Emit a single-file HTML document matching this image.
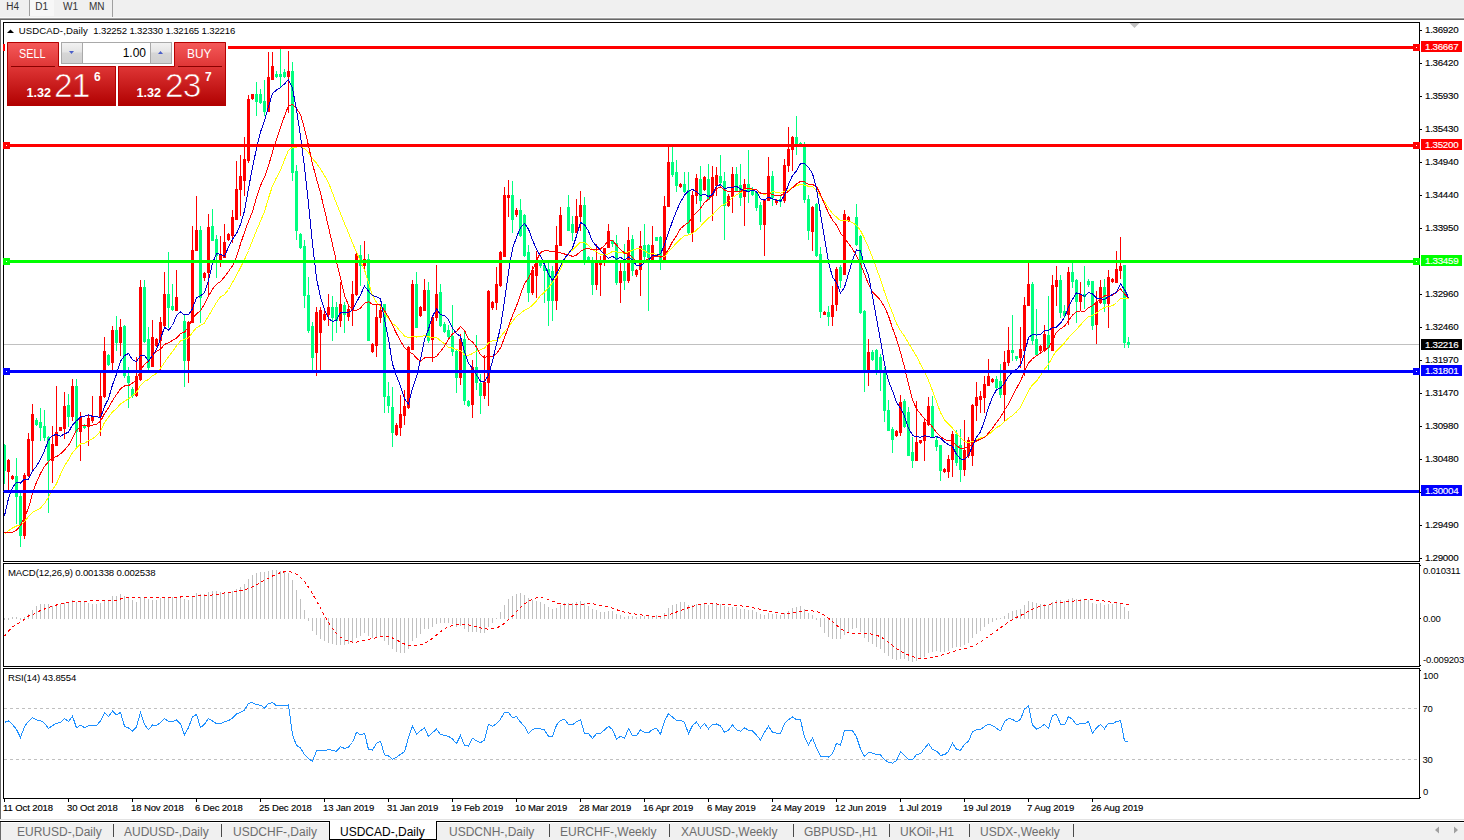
<!DOCTYPE html>
<html><head><meta charset="utf-8"><title>USDCAD-,Daily</title>
<style>html,body{margin:0;padding:0;background:#fff;} body{width:1464px;height:840px;position:relative;overflow:hidden;font-family:'Liberation Sans', sans-serif;}
svg text{white-space:pre;}</style></head>
<body>
<div style="position:absolute;left:7px;top:41px;width:219px;height:65px;">
</div>
<svg width="1464" height="840" viewBox="0 0 1464 840" style="position:absolute;left:0;top:0;font-family:'Liberation Sans', sans-serif"><rect x="0" y="0" width="1464" height="840" fill="#ffffff"/><rect x="0" y="0" width="1464" height="17" fill="#f0f0f0"/><rect x="0" y="17" width="1464" height="1" fill="#f9f9f9"/><rect x="0" y="18" width="1464" height="1" fill="#a0a0a0"/><rect x="0" y="19" width="1464" height="1" fill="#696969"/><rect x="0" y="19" width="1" height="800" fill="#696969"/><rect x="0" y="819" width="1464" height="1" fill="#e3e3e3"/><rect x="0" y="821" width="1464" height="1" fill="#000000"/><rect x="0" y="822" width="1464" height="18" fill="#f0f0f0"/><rect x="1" y="822" width="1463" height="1" fill="#ffffff"/><rect x="0" y="822" width="1" height="18" fill="#696969"/><rect x="30" y="0" width="24" height="16" fill="#f7f7f7"/><rect x="29" y="0" width="1" height="16" fill="#a0a0a0"/><rect x="112" y="0" width="1" height="17" fill="#a0a0a0"/><text x="6.3" y="10.2" font-size="10" fill="#333" letter-spacing="0">H4</text><text x="35.2" y="10.2" font-size="10" fill="#333" letter-spacing="0">D1</text><text x="63" y="10.2" font-size="10" fill="#333" letter-spacing="0">W1</text><text x="89" y="10.2" font-size="10" fill="#333" letter-spacing="0">MN</text><rect x="3.5" y="22.5" width="1416" height="539" fill="none" stroke="#000" stroke-width="1" shape-rendering="crispEdges"/><rect x="3.5" y="563.5" width="1416" height="103" fill="none" stroke="#000" stroke-width="1" shape-rendering="crispEdges"/><rect x="3.5" y="668.5" width="1416" height="130" fill="none" stroke="#000" stroke-width="1" shape-rendering="crispEdges"/><defs><clipPath id="cm"><rect x="4" y="23" width="1415" height="538"/></clipPath><clipPath id="cmacd"><rect x="4" y="564" width="1415" height="102"/></clipPath><clipPath id="crsi"><rect x="4" y="669" width="1415" height="129"/></clipPath></defs><g clip-path="url(#cm)"><rect x="4" y="344" width="1415" height="1" fill="#c0c0c0"/><path d="M8,459h1v32h-1z M7,460h3v12h-3z M12,475h1v5h-1z M11,476h3v3h-3z M24,473h1v66h-1z M23,475h3v61h-3z M28,433h1v44h-1z M27,439h3v37h-3z M32,404h1v68h-1z M31,414h3v27h-3z M52,426h1v57h-1z M51,444h3v17h-3z M56,386h1v60h-1z M55,432h3v14h-3z M60,427h1v4h-1z M59,427h3v4h-3z M64,392h1v47h-1z M63,406h3v23h-3z M72,379h1v42h-1z M71,386h3v31h-3z M80,412h1v49h-1z M79,417h3v15h-3z M88,415h1v31h-1z M87,418h3v9h-3z M92,396h1v27h-1z M91,416h3v5h-3z M100,373h1v63h-1z M99,396h3v21h-3z M104,337h1v61h-1z M103,351h3v46h-3z M112,326h1v45h-1z M111,330h3v33h-3z M120,319h1v37h-1z M119,327h3v16h-3z M136,357h1v40h-1z M135,376h3v20h-3z M140,280h1v101h-1z M139,287h3v93h-3z M152,320h1v47h-1z M151,337h3v30h-3z M156,338h1v9h-1z M155,339h3v7h-3z M160,317h1v54h-1z M159,322h3v19h-3z M164,272h1v55h-1z M163,294h3v32h-3z M176,270h1v41h-1z M175,297h3v14h-3z M188,321h1v62h-1z M187,322h3v39h-3z M192,226h1v97h-1z M191,250h3v73h-3z M196,196h1v55h-1z M195,230h3v21h-3z M204,272h1v9h-1z M203,273h3v5h-3z M208,214h1v82h-1z M207,227h3v46h-3z M220,236h1v31h-1z M219,255h3v6h-3z M224,224h1v34h-1z M223,242h3v16h-3z M228,233h1v8h-1z M227,234h3v6h-3z M232,210h1v33h-1z M231,217h3v19h-3z M236,161h1v59h-1z M235,189h3v31h-3z M240,155h1v61h-1z M239,176h3v14h-3z M244,137h1v59h-1z M243,159h3v22h-3z M248,95h1v68h-1z M247,99h3v62h-3z M252,94h1v6h-1z M251,94h3v5h-3z M268,52h1v60h-1z M267,77h3v35h-3z M272,52h1v28h-1z M271,66h3v14h-3z M288,51h1v62h-1z M287,71h3v6h-3z M316,307h1v69h-1z M315,312h3v41h-3z M320,307h1v66h-1z M319,310h3v23h-3z M324,310h1v11h-1z M323,314h3v6h-3z M328,294h1v32h-1z M327,307h3v8h-3z M340,282h1v45h-1z M339,304h3v17h-3z M348,305h1v16h-1z M347,309h3v8h-3z M352,281h1v45h-1z M351,294h3v17h-3z M356,252h1v44h-1z M355,254h3v41h-3z M364,241h1v30h-1z M363,259h3v7h-3z M372,343h1v10h-1z M371,344h3v8h-3z M376,304h1v53h-1z M375,317h3v29h-3z M380,305h1v18h-1z M379,310h3v8h-3z M396,423h1v13h-1z M395,425h3v10h-3z M400,395h1v41h-1z M399,414h3v14h-3z M404,390h1v35h-1z M403,406h3v10h-3z M408,346h1v63h-1z M407,347h3v61h-3z M412,280h1v70h-1z M411,284h3v66h-3z M420,306h1v11h-1z M419,307h3v9h-3z M424,279h1v32h-1z M423,290h3v21h-3z M432,315h1v47h-1z M431,317h3v23h-3z M436,265h1v56h-1z M435,294h3v24h-3z M460,334h1v51h-1z M459,339h3v39h-3z M472,360h1v58h-1z M471,367h3v38h-3z M484,355h1v44h-1z M483,382h3v14h-3z M488,290h1v116h-1z M487,291h3v92h-3z M492,301h1v9h-1z M491,302h3v6h-3z M496,267h1v43h-1z M495,284h3v19h-3z M500,251h1v36h-1z M499,252h3v34h-3z M504,187h1v70h-1z M503,195h3v62h-3z M508,180h1v37h-1z M507,195h3v3h-3z M516,208h1v9h-1z M515,210h3v5h-3z M532,266h1v29h-1z M531,270h3v23h-3z M536,251h1v47h-1z M535,262h3v14h-3z M556,226h1v84h-1z M555,245h3v56h-3z M560,207h1v39h-1z M559,215h3v31h-3z M576,199h1v34h-1z M575,216h3v17h-3z M580,191h1v40h-1z M579,205h3v12h-3z M596,244h1v46h-1z M595,262h3v23h-3z M600,256h1v40h-1z M599,261h3v4h-3z M604,248h1v18h-1z M603,248h3v13h-3z M608,224h1v24h-1z M607,231h3v17h-3z M620,260h1v43h-1z M619,271h3v12h-3z M628,227h1v56h-1z M627,240h3v41h-3z M636,269h1v8h-1z M635,270h3v5h-3z M640,231h1v65h-1z M639,246h3v24h-3z M652,226h1v35h-1z M651,245h3v15h-3z M664,196h1v65h-1z M663,206h3v55h-3z M668,146h1v61h-1z M667,162h3v45h-3z M680,183h1v5h-1z M679,184h3v3h-3z M692,191h1v51h-1z M691,195h3v38h-3z M696,174h1v30h-1z M695,178h3v18h-3z M704,176h1v15h-1z M703,177h3v13h-3z M712,166h1v55h-1z M711,177h3v19h-3z M716,167h1v29h-1z M715,175h3v11h-3z M728,194h1v13h-1z M727,196h3v10h-3z M732,167h1v46h-1z M731,174h3v23h-3z M744,179h1v47h-1z M743,184h3v13h-3z M764,199h1v57h-1z M763,200h3v25h-3z M768,157h1v44h-1z M767,176h3v25h-3z M776,199h1v6h-1z M775,200h3v3h-3z M784,159h1v44h-1z M783,165h3v36h-3z M788,127h1v45h-1z M787,149h3v17h-3z M792,136h1v35h-1z M791,137h3v13h-3z M812,206h1v45h-1z M811,207h3v25h-3z M824,311h1v4h-1z M823,312h3v3h-3z M832,286h1v40h-1z M831,305h3v12h-3z M836,267h1v44h-1z M835,269h3v36h-3z M844,210h1v65h-1z M843,214h3v61h-3z M848,216h1v6h-1z M847,217h3v4h-3z M868,339h1v47h-1z M867,352h3v19h-3z M896,430h1v7h-1z M895,431h3v5h-3z M900,395h1v41h-1z M899,402h3v31h-3z M916,401h1v60h-1z M915,442h3v19h-3z M920,440h1v4h-1z M919,440h3v3h-3z M924,420h1v41h-1z M923,422h3v19h-3z M928,397h1v29h-1z M927,406h3v19h-3z M944,468h1v5h-1z M943,469h3v3h-3z M948,455h1v23h-1z M947,459h3v13h-3z M952,431h1v46h-1z M951,434h3v26h-3z M964,420h1v56h-1z M963,450h3v20h-3z M968,437h1v21h-1z M967,440h3v16h-3z M972,404h1v62h-1z M971,405h3v51h-3z M976,382h1v39h-1z M975,397h3v9h-3z M980,391h1v22h-1z M979,396h3v4h-3z M984,376h1v37h-1z M983,384h3v14h-3z M988,359h1v27h-1z M987,376h3v10h-3z M992,378h1v5h-1z M991,379h3v3h-3z M1004,351h1v70h-1z M1003,362h3v33h-3z M1008,327h1v39h-1z M1007,350h3v13h-3z M1020,327h1v41h-1z M1019,349h3v9h-3z M1024,297h1v79h-1z M1023,305h3v46h-3z M1028,262h1v44h-1z M1027,284h3v22h-3z M1040,345h1v7h-1z M1039,346h3v5h-3z M1044,325h1v27h-1z M1043,334h3v17h-3z M1052,275h1v76h-1z M1051,285h3v66h-3z M1056,266h1v40h-1z M1055,280h3v7h-3z M1068,267h1v58h-1z M1067,272h3v43h-3z M1080,282h1v28h-1z M1079,294h3v8h-3z M1096,291h1v53h-1z M1095,302h3v23h-3z M1100,280h1v24h-1z M1099,287h3v16h-3z M1108,270h1v58h-1z M1107,277h3v27h-3z M1112,278h1v5h-1z M1111,279h3v3h-3z M1116,251h1v32h-1z M1115,269h3v14h-3z M1120,237h1v42h-1z M1119,266h3v5h-3z " fill="#ff0000" shape-rendering="crispEdges"/><path d="M4,444h1v40h-1z M3,445h3v26h-3z M16,458h1v66h-1z M15,476h3v21h-3z M20,490h1v57h-1z M19,496h3v40h-3z M36,418h1v8h-1z M35,420h3v5h-3z M40,408h1v33h-1z M39,422h3v6h-3z M44,410h1v31h-1z M43,426h3v12h-3z M48,436h1v77h-1z M47,437h3v24h-3z M68,394h1v33h-1z M67,405h3v12h-3z M76,379h1v69h-1z M75,386h3v46h-3z M84,424h1v5h-1z M83,425h3v3h-3z M108,354h1v12h-1z M107,355h3v10h-3z M116,316h1v35h-1z M115,330h3v13h-3z M124,325h1v53h-1z M123,326h3v50h-3z M128,367h1v41h-1z M127,376h3v7h-3z M132,387h1v11h-1z M131,389h3v7h-3z M144,280h1v63h-1z M143,287h3v55h-3z M148,327h1v43h-1z M147,339h3v29h-3z M168,252h1v76h-1z M167,294h3v14h-3z M172,284h1v27h-1z M171,306h3v4h-3z M184,314h1v73h-1z M183,321h3v40h-3z M200,226h1v97h-1z M199,230h3v68h-3z M212,209h1v32h-1z M211,226h3v15h-3z M216,235h1v43h-1z M215,239h3v17h-3z M256,82h1v34h-1z M255,94h3v8h-3z M260,89h1v15h-1z M259,94h3v9h-3z M264,80h1v36h-1z M263,101h3v11h-3z M276,71h1v7h-1z M275,74h3v3h-3z M280,49h1v38h-1z M279,74h3v3h-3z M284,69h1v9h-1z M283,72h3v5h-3z M292,62h1v119h-1z M291,71h3v102h-3z M296,165h1v75h-1z M295,171h3v60h-3z M300,233h1v16h-1z M299,234h3v14h-3z M304,240h1v68h-1z M303,246h3v50h-3z M308,277h1v56h-1z M307,295h3v36h-3z M312,322h1v51h-1z M311,326h3v32h-3z M332,296h1v45h-1z M331,307h3v11h-3z M336,302h1v31h-1z M335,307h3v14h-3z M344,302h1v31h-1z M343,305h3v10h-3z M360,245h1v41h-1z M359,255h3v11h-3z M368,254h1v87h-1z M367,259h3v82h-3z M384,304h1v109h-1z M383,304h3v93h-3z M388,382h1v31h-1z M387,396h3v10h-3z M392,387h1v60h-1z M391,407h3v26h-3z M416,272h1v56h-1z M415,284h3v44h-3z M428,282h1v61h-1z M427,290h3v51h-3z M440,284h1v43h-1z M439,292h3v34h-3z M444,322h1v11h-1z M443,324h3v8h-3z M448,325h1v15h-1z M447,330h3v7h-3z M452,305h1v51h-1z M451,336h3v16h-3z M456,349h1v44h-1z M455,351h3v27h-3z M464,331h1v74h-1z M463,339h3v62h-3z M468,400h1v7h-1z M467,401h3v5h-3z M476,335h1v55h-1z M475,367h3v16h-3z M480,374h1v40h-1z M479,383h3v13h-3z M512,181h1v52h-1z M511,195h3v25h-3z M520,199h1v38h-1z M519,210h3v26h-3z M524,214h1v43h-1z M523,215h3v41h-3z M528,245h1v57h-1z M527,252h3v41h-3z M540,260h1v8h-1z M539,262h3v4h-3z M544,262h1v41h-1z M543,265h3v6h-3z M548,262h1v64h-1z M547,269h3v32h-3z M552,266h1v55h-1z M551,271h3v30h-3z M568,195h1v36h-1z M567,207h3v24h-3z M572,216h1v25h-1z M571,224h3v9h-3z M584,197h1v68h-1z M583,205h3v56h-3z M588,256h1v7h-1z M587,257h3v4h-3z M592,257h1v38h-1z M591,260h3v25h-3z M612,240h1v7h-1z M611,240h3v4h-3z M616,235h1v50h-1z M615,243h3v40h-3z M624,244h1v46h-1z M623,271h3v10h-3z M632,235h1v41h-1z M631,239h3v32h-3z M644,224h1v37h-1z M643,245h3v12h-3z M648,244h1v67h-1z M647,245h3v13h-3z M656,237h1v4h-1z M655,237h3v4h-3z M660,236h1v34h-1z M659,237h3v24h-3z M672,147h1v30h-1z M671,162h3v13h-3z M676,160h1v32h-1z M675,172h3v14h-3z M684,172h1v21h-1z M683,184h3v8h-3z M688,172h1v63h-1z M687,190h3v43h-3z M700,166h1v56h-1z M699,179h3v22h-3z M708,164h1v36h-1z M707,179h3v21h-3z M720,155h1v31h-1z M719,176h3v7h-3z M724,172h1v68h-1z M723,181h3v25h-3z M736,167h1v25h-1z M735,174h3v18h-3z M740,164h1v42h-1z M739,185h3v13h-3z M748,150h1v53h-1z M747,184h3v8h-3z M752,187h1v9h-1z M751,189h3v6h-3z M756,191h1v20h-1z M755,192h3v16h-3z M760,202h1v28h-1z M759,205h3v20h-3z M772,171h1v35h-1z M771,176h3v22h-3z M780,195h1v12h-1z M779,199h3v3h-3z M796,116h1v39h-1z M795,137h3v8h-3z M800,142h1v5h-1z M799,143h3v3h-3z M804,142h1v61h-1z M803,144h3v56h-3z M808,195h1v45h-1z M807,199h3v32h-3z M816,203h1v54h-1z M815,204h3v52h-3z M820,247h1v71h-1z M819,254h3v58h-3z M828,306h1v20h-1z M827,312h3v5h-3z M840,265h1v23h-1z M839,267h3v14h-3z M856,204h1v42h-1z M855,217h3v28h-3z M860,235h1v79h-1z M859,236h3v77h-3z M864,310h1v82h-1z M863,311h3v60h-3z M872,350h1v11h-1z M871,352h3v8h-3z M876,349h1v26h-1z M875,350h3v21h-3z M880,354h1v37h-1z M879,357h3v16h-3z M884,367h1v55h-1z M883,370h3v41h-3z M888,400h1v31h-1z M887,410h3v21h-3z M892,427h1v26h-1z M891,429h3v11h-3z M904,399h1v29h-1z M903,401h3v26h-3z M908,407h1v49h-1z M907,412h3v44h-3z M912,437h1v31h-1z M911,452h3v9h-3z M932,396h1v42h-1z M931,406h3v32h-3z M936,436h1v15h-1z M935,440h3v7h-3z M940,445h1v36h-1z M939,445h3v26h-3z M956,430h1v36h-1z M955,434h3v29h-3z M960,429h1v53h-1z M959,445h3v25h-3z M996,376h1v15h-1z M995,379h3v9h-3z M1000,364h1v34h-1z M999,381h3v14h-3z M1012,315h1v46h-1z M1011,350h3v3h-3z M1016,356h1v5h-1z M1015,356h3v3h-3z M1032,282h1v63h-1z M1031,284h3v57h-3z M1036,309h1v47h-1z M1035,339h3v16h-3z M1048,296h1v75h-1z M1047,335h3v13h-3z M1060,275h1v43h-1z M1059,280h3v33h-3z M1064,305h1v13h-1z M1063,311h3v5h-3z M1072,262h1v26h-1z M1071,272h3v10h-3z M1076,279h1v44h-1z M1075,280h3v22h-3z M1084,266h1v43h-1z M1083,294h3v3h-3z M1088,279h1v8h-1z M1087,281h3v4h-3z M1092,281h1v49h-1z M1091,281h3v45h-3z M1104,279h1v33h-1z M1103,287h3v17h-3z M1124,265h1v83h-1z M1123,265h3v78h-3z M1128,337h1v11h-1z M1127,342h3v3h-3z " fill="#00ff7f" shape-rendering="crispEdges"/><polyline points="4.5,534.5 8.5,530.6 12.5,528.0 16.5,526.0 20.5,525.1 24.5,521.4 28.5,516.6 32.5,512.4 36.5,510.4 40.5,508.0 44.5,503.5 48.5,497.1 52.5,489.8 56.5,483.7 60.5,474.4 64.5,466.1 68.5,459.7 72.5,452.6 76.5,448.0 80.5,443.9 84.5,443.3 88.5,440.8 92.5,438.7 96.5,435.9 100.5,431.1 104.5,422.4 108.5,417.1 112.5,411.9 116.5,408.5 120.5,403.8 124.5,401.4 128.5,398.7 132.5,395.6 136.5,392.4 140.5,385.5 144.5,381.4 148.5,379.5 152.5,375.8 156.5,373.5 160.5,368.4 164.5,362.5 168.5,356.8 172.5,351.6 176.5,345.9 180.5,341.0 184.5,339.3 188.5,337.9 192.5,332.5 196.5,327.7 200.5,325.5 204.5,323.0 208.5,315.9 212.5,309.2 216.5,302.5 220.5,296.7 224.5,294.6 228.5,289.5 232.5,282.4 236.5,275.3 240.5,267.5 244.5,259.8 248.5,250.5 252.5,240.4 256.5,230.5 260.5,221.2 264.5,211.6 268.5,198.1 272.5,185.9 276.5,177.6 280.5,170.3 284.5,159.8 288.5,150.2 292.5,147.5 296.5,147.1 300.5,146.7 304.5,148.6 308.5,152.8 312.5,158.6 316.5,163.2 320.5,168.9 324.5,175.5 328.5,182.5 332.5,192.9 336.5,203.7 340.5,213.4 344.5,223.5 348.5,232.9 352.5,243.2 356.5,252.2 360.5,261.2 364.5,269.9 368.5,282.5 372.5,295.5 376.5,302.4 380.5,306.2 384.5,313.3 388.5,318.5 392.5,323.4 396.5,326.6 400.5,331.5 404.5,336.0 408.5,337.6 412.5,336.5 416.5,337.0 420.5,336.4 424.5,335.7 428.5,336.9 432.5,337.3 436.5,337.3 440.5,340.7 444.5,343.8 448.5,347.5 452.5,348.0 456.5,349.6 460.5,350.6 464.5,354.9 468.5,355.4 472.5,353.5 476.5,351.2 480.5,349.7 484.5,348.2 488.5,342.7 492.5,340.6 496.5,340.6 500.5,337.0 504.5,331.7 508.5,327.2 512.5,321.4 516.5,316.3 520.5,313.5 524.5,310.2 528.5,308.3 532.5,305.2 536.5,300.9 540.5,295.6 544.5,292.3 548.5,287.5 552.5,282.5 556.5,276.7 560.5,268.8 564.5,260.0 568.5,252.8 572.5,250.0 576.5,245.9 580.5,242.1 584.5,242.5 588.5,245.6 592.5,249.8 596.5,251.9 600.5,254.3 604.5,254.9 608.5,253.8 612.5,251.5 616.5,252.0 620.5,252.5 624.5,253.2 628.5,251.7 632.5,250.3 636.5,248.9 640.5,248.9 644.5,250.9 648.5,253.1 652.5,253.8 656.5,254.2 660.5,256.3 664.5,256.3 668.5,251.6 672.5,247.5 676.5,242.8 680.5,239.1 684.5,235.8 688.5,235.0 692.5,233.3 696.5,230.2 700.5,226.3 704.5,221.8 708.5,218.0 712.5,215.0 716.5,210.5 720.5,206.3 724.5,204.3 728.5,201.5 732.5,197.5 736.5,194.9 740.5,192.9 744.5,189.3 748.5,188.5 752.5,190.1 756.5,191.6 760.5,193.5 764.5,194.3 768.5,193.5 772.5,191.9 776.5,192.1 780.5,193.2 784.5,191.5 788.5,190.2 792.5,187.3 796.5,185.7 800.5,184.3 804.5,185.1 808.5,186.3 812.5,186.8 816.5,190.6 820.5,196.4 824.5,201.8 828.5,208.1 832.5,213.5 836.5,217.1 840.5,220.6 844.5,220.1 848.5,220.9 852.5,222.9 856.5,225.1 860.5,230.5 864.5,238.5 868.5,247.4 872.5,257.4 876.5,268.5 880.5,279.4 884.5,292.0 888.5,303.0 892.5,312.9 896.5,323.6 900.5,330.6 904.5,336.1 908.5,342.9 912.5,349.7 916.5,356.3 920.5,364.4 924.5,371.2 928.5,380.3 932.5,390.8 936.5,401.7 940.5,412.5 944.5,419.9 948.5,424.2 952.5,428.1 956.5,433.0 960.5,437.7 964.5,441.4 968.5,442.8 972.5,441.6 976.5,439.6 980.5,438.0 984.5,437.1 988.5,434.7 992.5,431.1 996.5,427.6 1000.5,425.4 1004.5,421.6 1008.5,418.2 1012.5,415.6 1016.5,411.9 1020.5,407.3 1024.5,399.4 1028.5,390.6 1032.5,384.9 1036.5,381.1 1040.5,375.6 1044.5,369.2 1048.5,364.3 1052.5,356.9 1056.5,350.9 1060.5,346.9 1064.5,343.0 1068.5,337.7 1072.5,333.2 1076.5,329.5 1080.5,325.0 1084.5,320.4 1088.5,316.6 1092.5,315.5 1096.5,313.1 1100.5,309.7 1104.5,307.5 1108.5,306.2 1112.5,305.9 1116.5,302.5 1120.5,298.4 1124.5,298.2 1128.5,298.6" fill="none" stroke="#ffff00" stroke-width="1" shape-rendering="crispEdges"/><polyline points="4.5,533.0 8.5,532.6 12.5,532.5 16.5,530.0 20.5,525.7 24.5,516.9 28.5,508.2 32.5,493.5 36.5,482.2 40.5,473.4 44.5,466.5 48.5,461.6 52.5,457.3 56.5,456.9 60.5,453.8 64.5,449.9 68.5,445.6 72.5,437.8 76.5,430.4 80.5,426.2 84.5,425.4 88.5,425.6 92.5,425.1 96.5,424.3 100.5,421.4 104.5,413.6 108.5,407.9 112.5,400.6 116.5,394.5 120.5,388.9 124.5,385.9 128.5,385.6 132.5,383.1 136.5,380.1 140.5,370.1 144.5,364.6 148.5,361.1 152.5,355.5 156.5,351.4 160.5,349.4 164.5,344.4 168.5,342.7 172.5,340.4 176.5,338.2 180.5,333.7 184.5,332.1 188.5,326.9 192.5,317.9 196.5,313.9 200.5,310.7 204.5,304.0 208.5,296.1 212.5,289.1 216.5,284.3 220.5,281.5 224.5,276.9 228.5,271.5 232.5,265.8 236.5,257.0 240.5,243.9 244.5,232.2 248.5,221.4 252.5,211.7 256.5,197.7 260.5,185.5 264.5,177.2 268.5,165.6 272.5,152.1 276.5,139.3 280.5,127.4 284.5,116.1 288.5,105.7 292.5,104.5 296.5,108.4 300.5,114.6 304.5,128.6 308.5,145.5 312.5,163.8 316.5,178.8 320.5,193.0 324.5,209.9 328.5,227.1 332.5,244.4 336.5,261.8 340.5,278.1 344.5,295.4 348.5,305.2 352.5,309.8 356.5,310.3 360.5,308.1 364.5,303.1 368.5,301.9 372.5,304.1 376.5,304.6 380.5,304.4 384.5,310.7 388.5,317.0 392.5,325.0 396.5,333.6 400.5,340.8 404.5,347.7 408.5,351.5 412.5,353.6 416.5,358.1 420.5,361.5 424.5,357.9 428.5,357.6 432.5,357.6 436.5,356.5 440.5,351.4 444.5,346.1 448.5,339.3 452.5,334.0 456.5,331.4 460.5,326.6 464.5,330.4 468.5,339.0 472.5,341.9 476.5,347.2 480.5,354.7 484.5,357.7 488.5,355.9 492.5,356.4 496.5,353.5 500.5,347.9 504.5,337.8 508.5,326.6 512.5,315.4 516.5,306.1 520.5,294.4 524.5,283.6 528.5,278.3 532.5,270.3 536.5,260.8 540.5,252.4 544.5,250.9 548.5,250.8 552.5,251.9 556.5,251.4 560.5,252.9 564.5,254.0 568.5,254.8 572.5,256.4 576.5,255.0 580.5,251.4 584.5,249.1 588.5,248.4 592.5,250.0 596.5,249.8 600.5,249.1 604.5,245.4 608.5,240.5 612.5,240.4 616.5,245.1 620.5,249.4 624.5,253.0 628.5,253.6 632.5,257.4 636.5,262.1 640.5,261.1 644.5,260.8 648.5,258.9 652.5,257.6 656.5,256.1 660.5,257.0 664.5,255.2 668.5,249.4 672.5,241.7 676.5,235.6 680.5,228.7 684.5,225.2 688.5,222.5 692.5,217.1 696.5,212.3 700.5,208.3 704.5,202.6 708.5,199.3 712.5,194.8 716.5,188.7 720.5,187.0 724.5,190.1 728.5,191.6 732.5,190.9 736.5,191.4 740.5,191.8 744.5,188.4 748.5,188.1 752.5,189.2 756.5,189.7 760.5,193.1 764.5,193.1 768.5,193.1 772.5,194.6 776.5,195.9 780.5,195.6 784.5,193.4 788.5,191.6 792.5,187.8 796.5,184.0 800.5,181.2 804.5,181.8 808.5,184.4 812.5,184.4 816.5,186.6 820.5,194.5 824.5,204.2 828.5,212.7 832.5,220.2 836.5,225.1 840.5,233.3 844.5,237.9 848.5,243.6 852.5,248.9 856.5,255.9 860.5,264.0 864.5,274.0 868.5,284.4 872.5,291.8 876.5,296.0 880.5,300.3 884.5,307.0 888.5,315.9 892.5,328.1 896.5,338.9 900.5,352.3 904.5,367.2 908.5,384.2 912.5,399.6 916.5,408.9 920.5,413.9 924.5,418.9 928.5,422.3 932.5,427.1 936.5,432.4 940.5,436.6 944.5,439.4 948.5,440.9 952.5,441.1 956.5,445.4 960.5,448.4 964.5,448.1 968.5,446.6 972.5,444.0 976.5,440.9 980.5,439.1 984.5,437.5 988.5,433.1 992.5,428.4 996.5,422.4 1000.5,417.1 1004.5,410.1 1008.5,404.1 1012.5,396.3 1016.5,388.4 1020.5,381.1 1024.5,371.5 1028.5,362.9 1032.5,358.8 1036.5,355.8 1040.5,353.1 1044.5,350.1 1048.5,347.8 1052.5,340.5 1056.5,332.4 1060.5,328.8 1064.5,326.3 1068.5,320.6 1072.5,315.1 1076.5,311.6 1080.5,310.9 1084.5,311.7 1088.5,307.7 1092.5,305.6 1096.5,302.5 1100.5,299.1 1104.5,296.0 1108.5,295.4 1112.5,295.4 1116.5,292.3 1120.5,288.8 1124.5,293.8 1128.5,298.3" fill="none" stroke="#ff0000" stroke-width="1" shape-rendering="crispEdges"/><polyline points="4.5,515.7 8.5,498.4 12.5,487.7 16.5,482.3 20.5,483.2 24.5,479.2 28.5,479.2 32.5,471.2 36.5,466.1 40.5,459.1 44.5,450.6 48.5,439.9 52.5,435.5 56.5,434.5 60.5,436.4 64.5,433.8 68.5,432.2 72.5,424.9 76.5,420.8 80.5,416.9 84.5,416.2 88.5,414.9 92.5,416.4 96.5,416.4 100.5,417.8 104.5,406.4 108.5,398.8 112.5,384.9 116.5,374.1 120.5,361.4 124.5,355.5 128.5,353.5 132.5,359.8 136.5,361.5 140.5,355.4 144.5,355.2 148.5,360.9 152.5,355.5 156.5,349.4 160.5,338.9 164.5,327.2 168.5,330.1 172.5,325.5 176.5,315.5 180.5,311.9 184.5,314.9 188.5,314.9 192.5,308.6 196.5,297.6 200.5,295.9 204.5,292.5 208.5,280.4 212.5,263.2 216.5,253.6 220.5,254.4 224.5,256.1 228.5,247.1 232.5,239.1 236.5,233.6 240.5,224.5 244.5,210.8 248.5,188.5 252.5,167.4 256.5,148.4 260.5,131.9 264.5,120.8 268.5,106.6 272.5,93.4 276.5,90.1 280.5,87.5 284.5,83.9 288.5,79.5 292.5,88.2 296.5,110.1 300.5,135.9 304.5,167.2 308.5,203.5 312.5,243.6 316.5,278.1 320.5,297.8 324.5,309.8 328.5,318.4 332.5,321.5 336.5,320.1 340.5,312.5 344.5,312.8 348.5,312.6 352.5,309.8 356.5,302.2 360.5,294.8 364.5,286.1 368.5,291.2 372.5,295.5 376.5,296.6 380.5,298.9 384.5,319.2 388.5,339.2 392.5,363.9 396.5,376.1 400.5,386.1 404.5,398.8 408.5,404.1 412.5,388.1 416.5,376.9 420.5,359.1 424.5,339.8 428.5,329.2 432.5,316.5 436.5,308.9 440.5,314.8 444.5,315.4 448.5,319.5 452.5,328.2 456.5,333.5 460.5,336.6 464.5,351.8 468.5,363.2 472.5,368.4 476.5,374.9 480.5,381.2 484.5,381.9 488.5,375.1 492.5,361.1 496.5,343.8 500.5,327.4 504.5,300.6 508.5,272.1 512.5,248.8 516.5,237.2 520.5,227.6 524.5,223.5 528.5,229.2 532.5,239.9 536.5,249.5 540.5,256.1 544.5,264.6 548.5,273.9 552.5,280.4 556.5,273.6 560.5,265.8 564.5,258.5 568.5,253.5 572.5,248.1 576.5,236.1 580.5,222.5 584.5,224.6 588.5,231.1 592.5,241.5 596.5,246.1 600.5,250.2 604.5,254.8 608.5,258.5 612.5,256.1 616.5,259.2 620.5,257.4 624.5,259.9 628.5,256.9 632.5,260.1 636.5,265.6 640.5,266.1 644.5,262.4 648.5,260.4 652.5,255.4 656.5,255.4 660.5,253.9 664.5,244.8 668.5,232.8 672.5,221.1 676.5,210.8 680.5,202.1 684.5,195.1 688.5,191.1 692.5,189.5 696.5,191.8 700.5,195.5 704.5,194.4 708.5,196.5 712.5,194.5 716.5,186.4 720.5,184.5 724.5,188.4 728.5,187.8 732.5,187.4 736.5,186.2 740.5,189.1 744.5,190.4 748.5,191.6 752.5,190.1 756.5,191.6 760.5,198.8 764.5,200.1 768.5,197.1 772.5,198.9 776.5,200.2 780.5,201.2 784.5,195.2 788.5,184.5 792.5,175.5 796.5,170.9 800.5,163.5 804.5,163.4 808.5,167.5 812.5,173.5 816.5,188.6 820.5,213.5 824.5,237.5 828.5,261.9 832.5,277.1 836.5,282.6 840.5,293.1 844.5,287.2 848.5,273.8 852.5,260.2 856.5,249.9 860.5,250.9 864.5,265.4 868.5,275.6 872.5,296.4 876.5,318.2 880.5,340.4 884.5,364.1 888.5,380.9 892.5,390.8 896.5,402.1 900.5,408.2 904.5,416.2 908.5,428.1 912.5,435.2 916.5,436.9 920.5,437.1 924.5,435.8 928.5,436.4 932.5,437.9 936.5,436.6 940.5,438.1 944.5,441.9 948.5,444.6 952.5,446.4 956.5,454.4 960.5,458.9 964.5,459.5 968.5,455.2 972.5,446.1 976.5,437.2 980.5,431.8 984.5,420.6 988.5,407.4 992.5,397.2 996.5,389.6 1000.5,388.1 1004.5,383.1 1008.5,376.5 1012.5,371.9 1016.5,369.4 1020.5,365.1 1024.5,353.4 1028.5,337.6 1032.5,334.5 1036.5,335.1 1040.5,334.2 1044.5,330.8 1048.5,330.5 1052.5,327.6 1056.5,327.1 1060.5,323.1 1064.5,317.5 1068.5,306.9 1072.5,299.4 1076.5,292.8 1080.5,294.1 1084.5,296.4 1088.5,292.4 1092.5,293.8 1096.5,298.1 1100.5,298.9 1104.5,299.2 1108.5,296.8 1112.5,294.4 1116.5,292.2 1120.5,283.8 1124.5,289.5 1128.5,297.6" fill="none" stroke="#0000cd" stroke-width="1" shape-rendering="crispEdges"/><rect x="4" y="46" width="1415" height="3" fill="#ff0000"/><rect x="4" y="144" width="1415" height="3" fill="#ff0000"/><rect x="4" y="260" width="1415" height="3" fill="#00ff00"/><rect x="4" y="370" width="1415" height="3" fill="#0000ff"/><rect x="4" y="490" width="1415" height="3" fill="#0000ff"/></g><rect x="3" y="44" width="7" height="7" fill="#ff0000"/><rect x="6" y="47" width="1" height="1" fill="#ffffff"/><rect x="1413" y="44" width="7" height="7" fill="#ff0000"/><rect x="1416" y="47" width="1" height="1" fill="#ffffff"/><rect x="3" y="142" width="7" height="7" fill="#ff0000"/><rect x="6" y="145" width="1" height="1" fill="#ffffff"/><rect x="1413" y="142" width="7" height="7" fill="#ff0000"/><rect x="1416" y="145" width="1" height="1" fill="#ffffff"/><rect x="3" y="258" width="7" height="7" fill="#00ff00"/><rect x="6" y="261" width="1" height="1" fill="#ffffff"/><rect x="1413" y="258" width="7" height="7" fill="#00ff00"/><rect x="1416" y="261" width="1" height="1" fill="#ffffff"/><rect x="3" y="368" width="7" height="7" fill="#0000ff"/><rect x="6" y="371" width="1" height="1" fill="#ffffff"/><rect x="1413" y="368" width="7" height="7" fill="#0000ff"/><rect x="1416" y="371" width="1" height="1" fill="#ffffff"/><rect x="3" y="491" width="1" height="1" fill="#0000ff"/><path d="M1129.5,23 L1139.5,23 L1134.5,28 Z" fill="#c0c0c0"/><path d="M7,33 L14,33 L10.5,29.5 Z" fill="#000"/><text x="18.7" y="34" font-size="9.6" fill="#000" textLength="69" lengthAdjust="spacing">USDCAD-,Daily</text><text x="93.3" y="34" font-size="9.6" fill="#000" textLength="142" lengthAdjust="spacing">1.32252 1.32330 1.32165 1.32216</text><defs><linearGradient id="gtab" x1="0" y1="0" x2="0" y2="1"><stop offset="0" stop-color="#f65252"/><stop offset="1" stop-color="#e43a3a"/></linearGradient><linearGradient id="glow" x1="0" y1="0" x2="0" y2="1"><stop offset="0" stop-color="#e33636"/><stop offset="1" stop-color="#b20000"/></linearGradient><linearGradient id="glowU" gradientUnits="userSpaceOnUse" x1="0" y1="42" x2="0" y2="106"><stop offset="0" stop-color="#f55a5a"/><stop offset="0.38" stop-color="#df3636"/><stop offset="1" stop-color="#b00000"/></linearGradient><linearGradient id="gbtn" x1="0" y1="0" x2="0" y2="1"><stop offset="0" stop-color="#f2f2f2"/><stop offset="0.45" stop-color="#e4e4e4"/><stop offset="0.5" stop-color="#d6d6d6"/><stop offset="1" stop-color="#d0d0d0"/></linearGradient></defs><rect x="5" y="39" width="223" height="69" fill="#ffffff"/><path d="M7,42 H59 V66 H116 V106 H7 Z" fill="url(#glowU)"/><path d="M7.5,42.5 H58.5 V66.5 H115.5 V105.5 H7.5 Z" fill="none" stroke="#b40000" stroke-width="1"/><rect x="11" y="66" width="44" height="1" fill="#8a0000"/><path d="M174,42 H226 V106 H118 V66 H174 Z" fill="url(#glowU)"/><path d="M174.5,42.5 H225.5 V105.5 H118.5 V66.5 H174.5 Z" fill="none" stroke="#b40000" stroke-width="1"/><rect x="178" y="66" width="44" height="1" fill="#8a0000"/><rect x="61.5" y="42.5" width="110" height="21" fill="#ffffff" stroke="#a9a9a9"/><rect x="62" y="43" width="20" height="20" fill="url(#gbtn)"/><rect x="82" y="43" width="1" height="20" fill="#a9a9a9"/><rect x="151" y="43" width="20" height="20" fill="url(#gbtn)"/><rect x="150" y="43" width="1" height="20" fill="#a9a9a9"/><path d="M69,51 L74,51 L71.5,54 Z" fill="#4a5ec8"/><path d="M158,54 L163,54 L160.5,51 Z" fill="#4a5ec8"/><text x="146" y="57" font-size="12" fill="#000" text-anchor="end">1.00</text><text x="19" y="58" font-size="12" fill="#fff" textLength="26.5" lengthAdjust="spacingAndGlyphs">SELL</text><text x="187" y="58" font-size="12" fill="#fff" textLength="24.5" lengthAdjust="spacingAndGlyphs">BUY</text><text x="26.5" y="97" font-size="12" font-weight="bold" fill="#fff" textLength="24.5" lengthAdjust="spacingAndGlyphs">1.32</text><text x="136.5" y="97" font-size="12" font-weight="bold" fill="#fff" textLength="24.5" lengthAdjust="spacingAndGlyphs">1.32</text><text x="54" y="97.3" font-size="33.5" fill="#fff" letter-spacing="-1" stroke="url(#glowU)" stroke-width="0.7">21</text><text x="165" y="97.3" font-size="33.5" fill="#fff" letter-spacing="-1" stroke="url(#glowU)" stroke-width="0.7">23</text><text x="94" y="81" font-size="12" font-weight="bold" fill="#fff">6</text><text x="205" y="81" font-size="12" font-weight="bold" fill="#fff">7</text><rect x="1420" y="558" width="2" height="1" fill="#000"/><text x="1425" y="561.4" font-size="9.8" fill="#000" letter-spacing="-0.3" stroke="#000" stroke-width="0.12">1.29000</text><rect x="1420" y="525" width="2" height="1" fill="#000"/><text x="1425" y="528.4" font-size="9.8" fill="#000" letter-spacing="-0.3" stroke="#000" stroke-width="0.12">1.29490</text><rect x="1420" y="492" width="2" height="1" fill="#000"/><text x="1425" y="495.4" font-size="9.8" fill="#000" letter-spacing="-0.3" stroke="#000" stroke-width="0.12">1.29990</text><rect x="1420" y="459" width="2" height="1" fill="#000"/><text x="1425" y="462.4" font-size="9.8" fill="#000" letter-spacing="-0.3" stroke="#000" stroke-width="0.12">1.30480</text><rect x="1420" y="426" width="2" height="1" fill="#000"/><text x="1425" y="429.4" font-size="9.8" fill="#000" letter-spacing="-0.3" stroke="#000" stroke-width="0.12">1.30980</text><rect x="1420" y="393" width="2" height="1" fill="#000"/><text x="1425" y="396.4" font-size="9.8" fill="#000" letter-spacing="-0.3" stroke="#000" stroke-width="0.12">1.31470</text><rect x="1420" y="360" width="2" height="1" fill="#000"/><text x="1425" y="363.4" font-size="9.8" fill="#000" letter-spacing="-0.3" stroke="#000" stroke-width="0.12">1.31970</text><rect x="1420" y="327" width="2" height="1" fill="#000"/><text x="1425" y="330.4" font-size="9.8" fill="#000" letter-spacing="-0.3" stroke="#000" stroke-width="0.12">1.32460</text><rect x="1420" y="294" width="2" height="1" fill="#000"/><text x="1425" y="297.4" font-size="9.8" fill="#000" letter-spacing="-0.3" stroke="#000" stroke-width="0.12">1.32960</text><text x="1425" y="264.4" font-size="9.8" fill="#000" letter-spacing="-0.3" stroke="#000" stroke-width="0.12">1.33450</text><rect x="1420" y="228" width="2" height="1" fill="#000"/><text x="1425" y="231.4" font-size="9.8" fill="#000" letter-spacing="-0.3" stroke="#000" stroke-width="0.12">1.33950</text><rect x="1420" y="195" width="2" height="1" fill="#000"/><text x="1425" y="198.4" font-size="9.8" fill="#000" letter-spacing="-0.3" stroke="#000" stroke-width="0.12">1.34440</text><rect x="1420" y="162" width="2" height="1" fill="#000"/><text x="1425" y="165.4" font-size="9.8" fill="#000" letter-spacing="-0.3" stroke="#000" stroke-width="0.12">1.34940</text><rect x="1420" y="129" width="2" height="1" fill="#000"/><text x="1425" y="132.4" font-size="9.8" fill="#000" letter-spacing="-0.3" stroke="#000" stroke-width="0.12">1.35430</text><rect x="1420" y="96" width="2" height="1" fill="#000"/><text x="1425" y="99.4" font-size="9.8" fill="#000" letter-spacing="-0.3" stroke="#000" stroke-width="0.12">1.35930</text><rect x="1420" y="63" width="2" height="1" fill="#000"/><text x="1425" y="66.4" font-size="9.8" fill="#000" letter-spacing="-0.3" stroke="#000" stroke-width="0.12">1.36420</text><rect x="1420" y="30" width="2" height="1" fill="#000"/><text x="1425" y="33.4" font-size="9.8" fill="#000" letter-spacing="-0.3" stroke="#000" stroke-width="0.12">1.36920</text><rect x="1421" y="41" width="41" height="11" fill="#ff0000"/><text x="1425" y="49.9" font-size="9.8" fill="#fff" letter-spacing="-0.3" stroke="#fff" stroke-width="0.15">1.36667</text><rect x="1421" y="139" width="41" height="11" fill="#ff0000"/><text x="1425" y="147.9" font-size="9.8" fill="#fff" letter-spacing="-0.3" stroke="#fff" stroke-width="0.15">1.35200</text><rect x="1421" y="255" width="41" height="11" fill="#00ff00"/><text x="1425" y="263.9" font-size="9.8" fill="#fff" letter-spacing="-0.3" stroke="#fff" stroke-width="0.15">1.33459</text><rect x="1421" y="339" width="41" height="11" fill="#000000"/><text x="1425" y="347.9" font-size="9.8" fill="#fff" letter-spacing="-0.3" stroke="#fff" stroke-width="0.15">1.32216</text><rect x="1421" y="365" width="41" height="11" fill="#0000ff"/><text x="1425" y="373.9" font-size="9.8" fill="#fff" letter-spacing="-0.3" stroke="#fff" stroke-width="0.15">1.31801</text><rect x="1421" y="485" width="41" height="11" fill="#0000ff"/><text x="1425" y="493.9" font-size="9.8" fill="#fff" letter-spacing="-0.3" stroke="#fff" stroke-width="0.15">1.30004</text><rect x="4" y="799" width="1" height="3" fill="#000"/><text x="3" y="811" font-size="9.5" fill="#000" letter-spacing="-0.1" stroke="#000" stroke-width="0.15">11 Oct 2018</text><rect x="68" y="799" width="1" height="3" fill="#000"/><text x="67" y="811" font-size="9.5" fill="#000" letter-spacing="-0.1" stroke="#000" stroke-width="0.15">30 Oct 2018</text><rect x="132" y="799" width="1" height="3" fill="#000"/><text x="131" y="811" font-size="9.5" fill="#000" letter-spacing="-0.1" stroke="#000" stroke-width="0.15">18 Nov 2018</text><rect x="196" y="799" width="1" height="3" fill="#000"/><text x="195" y="811" font-size="9.5" fill="#000" letter-spacing="-0.1" stroke="#000" stroke-width="0.15">6 Dec 2018</text><rect x="260" y="799" width="1" height="3" fill="#000"/><text x="259" y="811" font-size="9.5" fill="#000" letter-spacing="-0.1" stroke="#000" stroke-width="0.15">25 Dec 2018</text><rect x="324" y="799" width="1" height="3" fill="#000"/><text x="323" y="811" font-size="9.5" fill="#000" letter-spacing="-0.1" stroke="#000" stroke-width="0.15">13 Jan 2019</text><rect x="388" y="799" width="1" height="3" fill="#000"/><text x="387" y="811" font-size="9.5" fill="#000" letter-spacing="-0.1" stroke="#000" stroke-width="0.15">31 Jan 2019</text><rect x="452" y="799" width="1" height="3" fill="#000"/><text x="451" y="811" font-size="9.5" fill="#000" letter-spacing="-0.1" stroke="#000" stroke-width="0.15">19 Feb 2019</text><rect x="516" y="799" width="1" height="3" fill="#000"/><text x="515" y="811" font-size="9.5" fill="#000" letter-spacing="-0.1" stroke="#000" stroke-width="0.15">10 Mar 2019</text><rect x="580" y="799" width="1" height="3" fill="#000"/><text x="579" y="811" font-size="9.5" fill="#000" letter-spacing="-0.1" stroke="#000" stroke-width="0.15">28 Mar 2019</text><rect x="644" y="799" width="1" height="3" fill="#000"/><text x="643" y="811" font-size="9.5" fill="#000" letter-spacing="-0.1" stroke="#000" stroke-width="0.15">16 Apr 2019</text><rect x="708" y="799" width="1" height="3" fill="#000"/><text x="707" y="811" font-size="9.5" fill="#000" letter-spacing="-0.1" stroke="#000" stroke-width="0.15">6 May 2019</text><rect x="772" y="799" width="1" height="3" fill="#000"/><text x="771" y="811" font-size="9.5" fill="#000" letter-spacing="-0.1" stroke="#000" stroke-width="0.15">24 May 2019</text><rect x="836" y="799" width="1" height="3" fill="#000"/><text x="835" y="811" font-size="9.5" fill="#000" letter-spacing="-0.1" stroke="#000" stroke-width="0.15">12 Jun 2019</text><rect x="900" y="799" width="1" height="3" fill="#000"/><text x="899" y="811" font-size="9.5" fill="#000" letter-spacing="-0.1" stroke="#000" stroke-width="0.15">1 Jul 2019</text><rect x="964" y="799" width="1" height="3" fill="#000"/><text x="963" y="811" font-size="9.5" fill="#000" letter-spacing="-0.1" stroke="#000" stroke-width="0.15">19 Jul 2019</text><rect x="1028" y="799" width="1" height="3" fill="#000"/><text x="1027" y="811" font-size="9.5" fill="#000" letter-spacing="-0.1" stroke="#000" stroke-width="0.15">7 Aug 2019</text><rect x="1092" y="799" width="1" height="3" fill="#000"/><text x="1091" y="811" font-size="9.5" fill="#000" letter-spacing="-0.1" stroke="#000" stroke-width="0.15">26 Aug 2019</text><g clip-path="url(#cmacd)"><path d="M4,618h1V620h-1zM8,618h1V620h-1zM12,617h1V619h-1zM16,617h1V619h-1zM20,618h1V620h-1zM24,617h1V619h-1zM28,614h1V619h-1zM32,610h1V619h-1zM36,606h1V619h-1zM40,604h1V619h-1zM44,604h1V619h-1zM48,604h1V619h-1zM52,606h1V619h-1zM56,604h1V619h-1zM60,604h1V619h-1zM64,603h1V619h-1zM68,602h1V619h-1zM72,600h1V619h-1zM76,602h1V619h-1zM80,602h1V619h-1zM84,602h1V619h-1zM88,603h1V619h-1zM92,604h1V619h-1zM96,604h1V619h-1zM100,603h1V619h-1zM104,600h1V619h-1zM108,600h1V619h-1zM112,596h1V619h-1zM116,596h1V619h-1zM120,594h1V619h-1zM124,596h1V619h-1zM128,597h1V619h-1zM132,600h1V619h-1zM136,602h1V619h-1zM140,597h1V619h-1zM144,597h1V619h-1zM148,599h1V619h-1zM152,600h1V619h-1zM156,600h1V619h-1zM160,598h1V619h-1zM164,597h1V619h-1zM168,597h1V619h-1zM172,597h1V619h-1zM176,597h1V619h-1zM180,597h1V619h-1zM184,599h1V619h-1zM188,600h1V619h-1zM192,597h1V619h-1zM196,593h1V619h-1zM200,594h1V619h-1zM204,594h1V619h-1zM208,592h1V619h-1zM212,591h1V619h-1zM216,591h1V619h-1zM220,592h1V619h-1zM224,592h1V619h-1zM228,592h1V619h-1zM232,591h1V619h-1zM236,589h1V619h-1zM240,587h1V619h-1zM244,584h1V619h-1zM248,579h1V619h-1zM252,575h1V619h-1zM256,573h1V619h-1zM260,572h1V619h-1zM264,572h1V619h-1zM268,571h1V619h-1zM272,570h1V619h-1zM276,570h1V619h-1zM280,571h1V619h-1zM284,572h1V619h-1zM288,573h1V619h-1zM292,580h1V619h-1zM296,590h1V619h-1zM300,599h1V619h-1zM304,610h1V619h-1zM308,618h1V621h-1zM312,618h1V631h-1zM316,618h1V635h-1zM320,618h1V639h-1zM324,618h1V641h-1zM328,618h1V643h-1zM332,618h1V644h-1zM336,618h1V645h-1zM340,618h1V645h-1zM344,618h1V645h-1zM348,618h1V644h-1zM352,618h1V642h-1zM356,618h1V638h-1zM360,618h1V636h-1zM364,618h1V633h-1zM368,618h1V636h-1zM372,618h1V638h-1zM376,618h1V638h-1zM380,618h1V637h-1zM384,618h1V641h-1zM388,618h1V645h-1zM392,618h1V649h-1zM396,618h1V652h-1zM400,618h1V653h-1zM404,618h1V653h-1zM408,618h1V649h-1zM412,618h1V641h-1zM416,618h1V638h-1zM420,618h1V634h-1zM424,618h1V629h-1zM428,618h1V629h-1zM432,618h1V627h-1zM436,618h1V624h-1zM440,618h1V623h-1zM444,618h1V623h-1zM448,618h1V623h-1zM452,618h1V624h-1zM456,618h1V627h-1zM460,618h1V626h-1zM464,618h1V629h-1zM468,618h1V632h-1zM472,618h1V632h-1zM476,618h1V632h-1zM480,618h1V633h-1zM484,618h1V633h-1zM488,618h1V627h-1zM492,618h1V623h-1zM496,618h1V619h-1zM500,612h1V619h-1zM504,605h1V619h-1zM508,599h1V619h-1zM512,596h1V619h-1zM516,594h1V619h-1zM520,593h1V619h-1zM524,595h1V619h-1zM528,598h1V619h-1zM532,600h1V619h-1zM536,601h1V619h-1zM540,602h1V619h-1zM544,604h1V619h-1zM548,607h1V619h-1zM552,609h1V619h-1zM556,608h1V619h-1zM560,605h1V619h-1zM564,603h1V619h-1zM568,603h1V619h-1zM572,603h1V619h-1zM576,602h1V619h-1zM580,601h1V619h-1zM584,603h1V619h-1zM588,606h1V619h-1zM592,609h1V619h-1zM596,610h1V619h-1zM600,612h1V619h-1zM604,612h1V619h-1zM608,611h1V619h-1zM612,611h1V619h-1zM616,614h1V619h-1zM620,615h1V619h-1zM624,617h1V619h-1zM628,616h1V619h-1zM632,616h1V619h-1zM636,617h1V619h-1zM640,616h1V619h-1zM644,616h1V619h-1zM648,616h1V619h-1zM652,616h1V619h-1zM656,615h1V619h-1zM660,616h1V619h-1zM664,613h1V619h-1zM668,608h1V619h-1zM672,605h1V619h-1zM676,604h1V619h-1zM680,602h1V619h-1zM684,602h1V619h-1zM688,605h1V619h-1zM692,605h1V619h-1zM696,604h1V619h-1zM700,604h1V619h-1zM704,604h1V619h-1zM708,605h1V619h-1zM712,604h1V619h-1zM716,604h1V619h-1zM720,604h1V619h-1zM724,606h1V619h-1zM728,607h1V619h-1zM732,607h1V619h-1zM736,607h1V619h-1zM740,609h1V619h-1zM744,609h1V619h-1zM748,610h1V619h-1zM752,610h1V619h-1zM756,612h1V619h-1zM760,614h1V619h-1zM764,615h1V619h-1zM768,613h1V619h-1zM772,614h1V619h-1zM776,614h1V619h-1zM780,615h1V619h-1zM784,613h1V619h-1zM788,611h1V619h-1zM792,608h1V619h-1zM796,607h1V619h-1zM800,606h1V619h-1zM804,609h1V619h-1zM808,613h1V619h-1zM812,615h1V619h-1zM816,618h1V620h-1zM820,618h1V627h-1zM824,618h1V633h-1zM828,618h1V637h-1zM832,618h1V639h-1zM836,618h1V639h-1zM840,618h1V639h-1zM844,618h1V635h-1zM848,618h1V632h-1zM852,618h1V629h-1zM856,618h1V628h-1zM860,618h1V632h-1zM864,618h1V638h-1zM868,618h1V642h-1zM872,618h1V644h-1zM876,618h1V647h-1zM880,618h1V649h-1zM884,618h1V653h-1zM888,618h1V656h-1zM892,618h1V659h-1zM896,618h1V660h-1zM900,618h1V659h-1zM904,618h1V659h-1zM908,618h1V661h-1zM912,618h1V662h-1zM916,618h1V661h-1zM920,618h1V659h-1zM924,618h1V657h-1zM928,618h1V653h-1zM932,618h1V652h-1zM936,618h1V651h-1zM940,618h1V652h-1zM944,618h1V652h-1zM948,618h1V651h-1zM952,618h1V648h-1zM956,618h1V647h-1zM960,618h1V647h-1zM964,618h1V645h-1zM968,618h1V643h-1zM972,618h1V638h-1zM976,618h1V634h-1zM980,618h1V631h-1zM984,618h1V627h-1zM988,618h1V624h-1zM992,618h1V622h-1zM996,618h1V620h-1zM1000,618h1V619h-1zM1004,616h1V619h-1zM1008,613h1V619h-1zM1012,611h1V619h-1zM1016,610h1V619h-1zM1020,609h1V619h-1zM1024,605h1V619h-1zM1028,601h1V619h-1zM1032,602h1V619h-1zM1036,603h1V619h-1zM1040,604h1V619h-1zM1044,604h1V619h-1zM1048,605h1V619h-1zM1052,602h1V619h-1zM1056,600h1V619h-1zM1060,600h1V619h-1zM1064,601h1V619h-1zM1068,599h1V619h-1zM1072,598h1V619h-1zM1076,599h1V619h-1zM1080,599h1V619h-1zM1084,600h1V619h-1zM1088,600h1V619h-1zM1092,603h1V619h-1zM1096,604h1V619h-1zM1100,603h1V619h-1zM1104,605h1V619h-1zM1108,604h1V619h-1zM1112,604h1V619h-1zM1116,603h1V619h-1zM1120,603h1V619h-1zM1124,607h1V619h-1zM1128,611h1V619h-1z" fill="#c0c0c0" shape-rendering="crispEdges"/><polyline points="4.5,636.0 8.5,631.0 12.5,627.0 16.5,624.4 20.5,622.0 24.5,619.4 28.5,616.0 32.5,614.8 36.5,612.2 40.5,610.6 44.5,609.0 48.5,607.5 52.5,606.2 56.5,605.0 60.5,604.0 64.5,603.1 68.5,602.2 72.5,601.9 76.5,601.5 80.5,601.3 84.5,601.1 88.5,601.0 92.5,600.9 96.5,600.8 100.5,600.7 104.5,600.6 108.5,600.5 112.5,600.4 116.5,600.2 120.5,599.0 124.5,598.0 128.5,597.5 132.5,597.3 136.5,597.1 140.5,597.0 144.5,597.0 148.5,597.0 152.5,597.0 156.5,597.0 160.5,597.0 164.5,597.0 168.5,597.0 172.5,597.0 176.5,597.0 180.5,597.0 184.5,596.2 188.5,596.5 192.5,596.4 196.5,595.9 200.5,595.8 204.5,595.8 208.5,595.4 212.5,595.0 216.5,594.5 220.5,593.7 224.5,592.8 228.5,592.3 232.5,592.1 236.5,591.5 240.5,590.6 244.5,589.8 248.5,588.6 252.5,586.8 256.5,584.7 260.5,582.5 264.5,580.4 268.5,578.1 272.5,576.0 276.5,574.2 280.5,572.6 284.5,571.8 288.5,571.5 292.5,572.3 296.5,574.3 300.5,577.3 304.5,581.6 308.5,587.1 312.5,593.8 316.5,600.8 320.5,608.2 324.5,615.7 328.5,622.5 332.5,628.4 336.5,633.4 340.5,637.2 344.5,639.8 348.5,641.3 352.5,642.1 356.5,642.1 360.5,641.4 364.5,640.3 368.5,639.3 372.5,638.5 376.5,637.7 380.5,636.8 384.5,636.5 388.5,636.8 392.5,638.0 396.5,639.9 400.5,642.1 404.5,644.0 408.5,645.2 412.5,645.7 416.5,645.8 420.5,645.0 424.5,643.2 428.5,641.0 432.5,638.2 436.5,635.0 440.5,631.7 444.5,628.8 448.5,626.8 452.5,625.3 456.5,624.6 460.5,624.2 464.5,624.3 468.5,624.8 472.5,625.7 476.5,626.7 480.5,627.8 484.5,628.8 488.5,629.1 492.5,628.7 496.5,627.9 500.5,626.1 504.5,623.2 508.5,619.7 512.5,615.9 516.5,611.6 520.5,607.3 524.5,603.8 528.5,601.2 532.5,599.2 536.5,597.9 540.5,597.7 544.5,598.2 548.5,599.4 552.5,601.1 556.5,602.7 560.5,603.9 564.5,604.4 568.5,604.7 572.5,604.9 576.5,604.9 580.5,604.5 584.5,604.1 588.5,603.7 592.5,603.8 596.5,604.4 600.5,605.3 604.5,606.3 608.5,607.2 612.5,608.2 616.5,609.7 620.5,610.9 624.5,612.2 628.5,612.9 632.5,613.6 636.5,614.2 640.5,614.7 644.5,615.4 648.5,616.0 652.5,616.2 656.5,616.2 660.5,616.1 664.5,615.8 668.5,614.8 672.5,613.5 676.5,612.0 680.5,610.5 684.5,608.9 688.5,607.7 692.5,606.5 696.5,605.2 700.5,604.3 704.5,603.8 708.5,603.8 712.5,603.8 716.5,604.0 720.5,604.2 724.5,604.3 728.5,604.6 732.5,604.9 736.5,605.3 740.5,605.8 744.5,606.3 748.5,606.9 752.5,607.6 756.5,608.5 760.5,609.4 764.5,610.2 768.5,611.0 772.5,611.7 776.5,612.3 780.5,613.0 784.5,613.4 788.5,613.5 792.5,613.1 796.5,612.3 800.5,611.4 804.5,610.9 808.5,610.8 812.5,610.9 816.5,611.4 820.5,612.8 824.5,615.1 828.5,618.2 832.5,621.7 836.5,625.2 840.5,628.5 844.5,630.8 848.5,632.5 852.5,633.4 856.5,633.5 860.5,633.4 864.5,633.5 868.5,633.7 872.5,634.3 876.5,635.2 880.5,636.8 884.5,639.2 888.5,642.2 892.5,645.6 896.5,648.8 900.5,651.2 904.5,653.2 908.5,655.0 912.5,656.6 916.5,657.8 920.5,658.6 924.5,658.7 928.5,658.0 932.5,657.1 936.5,656.3 940.5,655.4 944.5,654.5 948.5,653.3 952.5,651.9 956.5,650.6 960.5,649.5 964.5,648.6 968.5,647.5 972.5,646.1 976.5,644.1 980.5,641.8 984.5,639.2 988.5,636.5 992.5,633.7 996.5,630.7 1000.5,627.8 1004.5,624.9 1008.5,622.2 1012.5,619.7 1016.5,617.5 1020.5,615.5 1024.5,613.5 1028.5,611.3 1032.5,609.4 1036.5,607.6 1040.5,606.3 1044.5,605.3 1048.5,604.6 1052.5,603.7 1056.5,602.7 1060.5,602.2 1064.5,602.1 1068.5,601.8 1072.5,601.2 1076.5,600.7 1080.5,600.1 1084.5,599.6 1088.5,599.4 1092.5,599.7 1096.5,600.1 1100.5,600.4 1104.5,601.1 1108.5,601.8 1112.5,602.3 1116.5,602.8 1120.5,603.1 1124.5,603.9 1128.5,604.9" fill="none" stroke="#ff0000" stroke-width="1" stroke-dasharray="3,3" shape-rendering="crispEdges"/></g><text x="8" y="576" font-size="9.6" fill="#000" letter-spacing="-0.15">MACD(12,26,9) 0.001338 0.002538</text><text x="1423" y="574" font-size="9.5" fill="#000" letter-spacing="-0.2">0.010311</text><text x="1423" y="622" font-size="9.5" fill="#000" letter-spacing="-0.2">0.00</text><text x="1423" y="663" font-size="9.5" fill="#000" letter-spacing="-0.2">-0.009203</text><rect x="1420" y="565" width="1" height="1" fill="#000"/><rect x="1420" y="618" width="1" height="1" fill="#000"/><rect x="1420" y="665" width="1" height="1" fill="#000"/><g clip-path="url(#crsi)"><line x1="4" y1="708.5" x2="1419" y2="708.5" stroke="#c0c0c0" stroke-width="1" stroke-dasharray="3,3"/><line x1="4" y1="759.5" x2="1419" y2="759.5" stroke="#c0c0c0" stroke-width="1" stroke-dasharray="3,3"/><polyline points="4.5,722.4 8.5,720.8 12.5,724.7 16.5,729.4 20.5,737.5 24.5,726.6 28.5,721.2 32.5,717.8 36.5,720.0 40.5,720.7 44.5,723.1 48.5,728.5 52.5,725.5 56.5,723.3 60.5,722.4 64.5,718.6 68.5,721.4 72.5,716.1 76.5,727.9 80.5,725.2 84.5,727.7 88.5,725.8 92.5,725.4 96.5,725.4 100.5,720.9 104.5,712.6 108.5,716.7 112.5,711.1 116.5,714.9 120.5,712.4 124.5,726.2 128.5,727.9 132.5,731.2 136.5,727.0 140.5,712.3 144.5,724.6 148.5,729.7 152.5,725.0 156.5,725.4 160.5,722.6 164.5,718.4 168.5,721.5 172.5,721.9 176.5,719.9 180.5,723.8 184.5,734.8 188.5,727.5 192.5,716.8 196.5,714.3 200.5,727.6 204.5,724.3 208.5,718.5 212.5,721.0 216.5,723.8 220.5,723.8 224.5,721.9 228.5,720.6 232.5,718.0 236.5,714.0 240.5,712.2 244.5,710.0 248.5,703.2 252.5,702.7 256.5,704.8 260.5,705.1 264.5,708.0 268.5,703.7 272.5,702.4 276.5,705.8 280.5,705.8 284.5,705.8 288.5,705.0 292.5,735.0 296.5,745.4 300.5,748.0 304.5,754.5 308.5,758.5 312.5,761.4 316.5,750.8 320.5,750.4 324.5,750.9 328.5,749.2 332.5,750.7 336.5,751.2 340.5,746.7 344.5,748.5 348.5,747.0 352.5,742.5 356.5,732.2 360.5,734.8 364.5,733.3 368.5,749.5 372.5,750.1 376.5,743.1 380.5,741.3 384.5,754.8 388.5,755.9 392.5,759.2 396.5,757.2 400.5,754.2 404.5,751.9 408.5,737.5 412.5,726.2 416.5,734.0 420.5,730.7 424.5,727.9 428.5,736.6 432.5,732.7 436.5,729.0 440.5,734.4 444.5,735.4 448.5,736.3 452.5,739.0 456.5,743.5 460.5,735.6 464.5,745.3 468.5,746.0 472.5,738.3 476.5,740.7 480.5,742.8 484.5,740.0 488.5,724.3 492.5,726.4 496.5,723.7 500.5,719.2 504.5,712.4 508.5,712.4 512.5,717.7 516.5,716.6 520.5,722.1 524.5,726.4 528.5,733.5 532.5,729.6 536.5,728.3 540.5,728.9 544.5,730.0 548.5,736.4 552.5,736.4 556.5,725.2 560.5,720.2 564.5,719.5 568.5,724.3 572.5,724.8 576.5,721.7 580.5,719.6 584.5,733.4 588.5,733.4 592.5,738.6 596.5,733.5 600.5,733.2 604.5,730.1 608.5,726.3 612.5,729.6 616.5,739.1 620.5,736.2 624.5,738.4 628.5,728.6 632.5,735.7 636.5,735.7 640.5,729.9 644.5,732.4 648.5,732.7 652.5,729.6 656.5,728.3 660.5,734.2 664.5,721.3 668.5,713.6 672.5,717.1 676.5,720.3 680.5,720.1 684.5,722.3 688.5,733.7 692.5,725.5 696.5,722.1 700.5,727.9 704.5,723.3 708.5,728.9 712.5,724.4 716.5,724.0 720.5,726.0 724.5,732.2 728.5,730.0 732.5,724.9 736.5,729.7 740.5,731.3 744.5,728.0 748.5,730.1 752.5,731.0 756.5,735.1 760.5,740.0 764.5,732.4 768.5,726.0 772.5,732.3 776.5,733.2 780.5,733.5 784.5,723.5 788.5,719.7 792.5,717.0 796.5,719.6 800.5,720.0 804.5,737.4 808.5,744.7 812.5,738.0 816.5,747.9 820.5,756.4 824.5,756.5 828.5,757.1 832.5,753.6 836.5,743.3 840.5,745.4 844.5,730.1 848.5,730.8 852.5,730.8 856.5,736.9 860.5,749.0 864.5,756.5 868.5,752.2 872.5,753.2 876.5,754.6 880.5,754.9 884.5,759.8 888.5,762.2 892.5,763.2 896.5,760.6 900.5,751.9 904.5,755.5 908.5,759.4 912.5,760.0 916.5,754.4 920.5,753.8 924.5,748.3 928.5,743.6 932.5,749.5 936.5,751.1 940.5,755.2 944.5,754.8 948.5,751.4 952.5,743.3 956.5,749.1 960.5,750.4 964.5,744.3 968.5,741.3 972.5,731.8 976.5,729.8 980.5,729.5 984.5,726.4 988.5,724.4 992.5,725.4 996.5,728.3 1000.5,730.8 1004.5,721.6 1008.5,718.6 1012.5,719.4 1016.5,721.9 1020.5,719.3 1024.5,709.2 1028.5,705.4 1032.5,725.1 1036.5,729.1 1040.5,727.2 1044.5,724.3 1048.5,728.3 1052.5,715.4 1056.5,714.5 1060.5,724.0 1064.5,724.9 1068.5,716.6 1072.5,719.2 1076.5,724.9 1080.5,723.4 1084.5,724.0 1088.5,721.3 1092.5,733.1 1096.5,727.7 1100.5,724.4 1104.5,728.8 1108.5,723.1 1112.5,723.7 1116.5,721.5 1120.5,720.8 1124.5,740.9 1128.5,741.4" fill="none" stroke="#1e90ff" stroke-width="1" shape-rendering="crispEdges"/></g><text x="8" y="681" font-size="9.6" fill="#000" letter-spacing="-0.15">RSI(14) 43.8554</text><text x="1423" y="679" font-size="9.5" fill="#000" letter-spacing="-0.2">100</text><text x="1422.5" y="712" font-size="9.5" fill="#000" letter-spacing="-0.2">70</text><text x="1422.5" y="763" font-size="9.5" fill="#000" letter-spacing="-0.2">30</text><text x="1423" y="795" font-size="9.5" fill="#000" letter-spacing="-0.2">0</text><rect x="1420" y="670" width="1" height="1" fill="#000"/><rect x="1420" y="797" width="1" height="1" fill="#000"/><rect x="113" y="824" width="1" height="13" fill="#4a4a4a"/><rect x="221" y="824" width="1" height="13" fill="#4a4a4a"/><rect x="549" y="824" width="1" height="13" fill="#4a4a4a"/><rect x="669" y="824" width="1" height="13" fill="#4a4a4a"/><rect x="793" y="824" width="1" height="13" fill="#4a4a4a"/><rect x="889" y="824" width="1" height="13" fill="#4a4a4a"/><rect x="969" y="824" width="1" height="13" fill="#4a4a4a"/><rect x="1073" y="824" width="1" height="13" fill="#4a4a4a"/><rect x="329" y="821" width="108" height="18" fill="#ffffff"/><rect x="329" y="821" width="1" height="19" fill="#000"/><rect x="436" y="821" width="1" height="19" fill="#000"/><rect x="329" y="839" width="108" height="1" fill="#000"/><text x="17" y="836" font-size="12" fill="#6d6d6d">EURUSD-,Daily</text><text x="124" y="836" font-size="12" fill="#6d6d6d">AUDUSD-,Daily</text><text x="233" y="836" font-size="12" fill="#6d6d6d">USDCHF-,Daily</text><text x="340" y="836" font-size="12" fill="#000">USDCAD-,Daily</text><text x="449" y="836" font-size="12" fill="#6d6d6d">USDCNH-,Daily</text><text x="560" y="836" font-size="12" fill="#6d6d6d">EURCHF-,Weekly</text><text x="681" y="836" font-size="12" fill="#6d6d6d">XAUUSD-,Weekly</text><text x="804" y="836" font-size="12" fill="#6d6d6d">GBPUSD-,H1</text><text x="900" y="836" font-size="12" fill="#6d6d6d">UKOil-,H1</text><text x="980" y="836" font-size="12" fill="#6d6d6d">USDX-,Weekly</text><path d="M1439,826.5 L1435,830 L1439,833.5 Z" fill="#a0a0a0"/><path d="M1454,826.5 L1458,830 L1454,833.5 Z" fill="#a0a0a0"/></svg>
</body></html>
